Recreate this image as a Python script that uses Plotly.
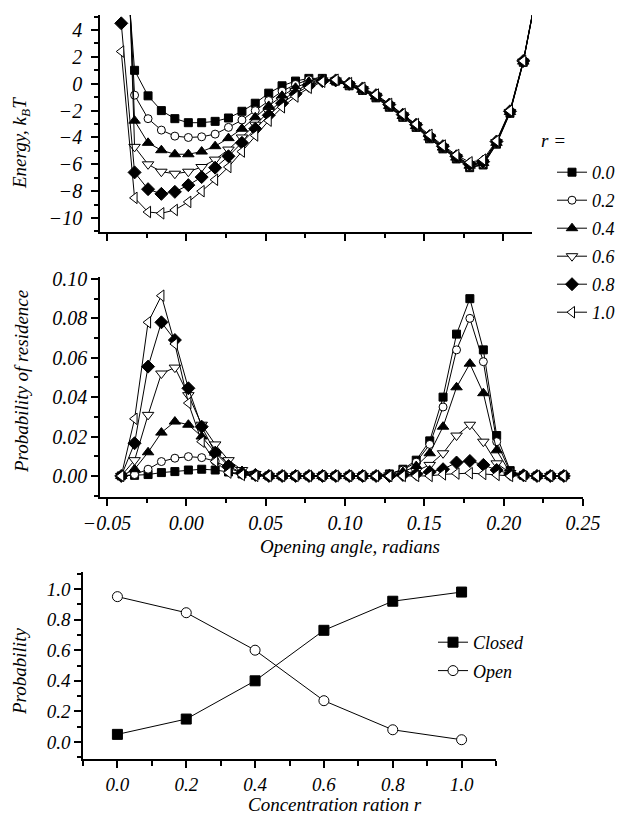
import plotly.graph_objects as go

# ---------------- data ----------------
angle = [-0.0410, -0.0326, -0.0241, -0.0157, -0.0072, 0.0013, 0.0097, 0.0182, 0.0266, 0.0351,
         0.0435, 0.0520, 0.0604, 0.0689, 0.0773, 0.0858, 0.0942, 0.1027, 0.1111, 0.1196,
         0.1280, 0.1365, 0.1449, 0.1534, 0.1618, 0.1703, 0.1787, 0.1872, 0.1956, 0.2041,
         0.2125, 0.2210, 0.2294, 0.2379]

r_labels = ["0.0", "0.2", "0.4", "0.6", "0.8", "1.0"]

# energy (k_B T), first 32 angles
energy_00 = [14, 1.0, -0.9, -2.0, -2.6, -2.9, -2.9, -2.8, -2.55, -2.05, -1.45, -0.7, -0.15, 0.2, 0.4, 0.4,
             0.2, -0.15, -0.5, -1.05, -1.75, -2.5, -3.25, -4.1, -4.85, -5.6, -6.25, -6.05, -4.5, -2.2, 1.6, 6.8]
energy_02 = [18, -0.85, -2.6, -3.45, -3.9, -4.0, -3.95, -3.75, -3.25, -2.7, -2.0, -1.25, -0.55, -0.05, 0.3, 0.35,
             0.2, -0.15, -0.5, -1.0, -1.7, -2.45, -3.2, -4.05, -4.8, -5.55, -6.2, -6.0, -4.45, -2.15, 1.6, 6.8]
energy_04 = [22, -2.75, -4.4, -4.95, -5.25, -5.25, -5.05, -4.65, -4.05, -3.35, -2.5, -1.65, -0.9, -0.3, 0.15, 0.3,
             0.2, -0.1, -0.45, -0.95, -1.65, -2.4, -3.15, -4.0, -4.75, -5.5, -6.1, -5.9, -4.4, -2.1, 1.65, 6.8]
energy_06 = [26, -4.7, -6.0, -6.55, -6.7, -6.55, -6.2, -5.65, -4.9, -4.0, -3.05, -2.1, -1.25, -0.55, 0.0, 0.25,
             0.25, -0.05, -0.4, -0.9, -1.6, -2.35, -3.1, -3.95, -4.7, -5.45, -6.05, -5.85, -4.35, -2.1, 1.65, 6.85]
energy_08 = [4.5, -6.6, -7.85, -8.2, -8.05, -7.55, -6.95, -6.25, -5.4, -4.4, -3.35, -2.35, -1.45, -0.75, -0.15, 0.2,
             0.25, 0.0, -0.35, -0.85, -1.55, -2.3, -3.05, -3.9, -4.65, -5.4, -6.0, -5.8, -4.3, -2.05, 1.7, 6.85]
energy_10 = [2.4, -8.5, -9.55, -9.65, -9.4, -8.8, -8.0, -7.15, -6.2, -5.05, -3.85, -2.75, -1.75, -0.95, -0.3, 0.15,
             0.3, 0.05, -0.3, -0.8, -1.5, -2.25, -3.0, -3.8, -4.6, -5.3, -5.85, -5.65, -4.25, -2.0, 1.7, 6.9]

# probability of residence, all 34 angles
prob_00 = [0, 0.0003, 0.0007, 0.0017, 0.0022, 0.003, 0.0034, 0.003, 0.002, 0.001, 0.0004, 0, 0, 0, 0, 0, 0,
           0, 0, 0, 0.001, 0.0034, 0.008, 0.0178, 0.040, 0.072, 0.090, 0.064, 0.0205, 0.0027, 0.0003, 0, 0, 0]
prob_02 = [0, 0.0007, 0.0034, 0.0073, 0.009, 0.0098, 0.0093, 0.0075, 0.004, 0.0015, 0.0005, 0, 0, 0, 0, 0, 0,
           0, 0, 0, 0.001, 0.003, 0.007, 0.016, 0.035, 0.064, 0.080, 0.058, 0.0174, 0.002, 0.0002, 0, 0, 0]
prob_04 = [0, 0.0034, 0.012, 0.022, 0.0276, 0.026, 0.020, 0.0118, 0.0064, 0.0025, 0.001, 0, 0, 0, 0, 0, 0,
           0, 0, 0, 0.0007, 0.002, 0.005, 0.0115, 0.025, 0.045, 0.057, 0.042, 0.013, 0.0015, 0.0002, 0, 0, 0]
prob_06 = [0, 0.008, 0.031, 0.052, 0.055, 0.041, 0.026, 0.016, 0.008, 0.003, 0.001, 0, 0, 0, 0, 0, 0,
           0, 0, 0, 0.0003, 0.001, 0.0025, 0.0056, 0.0115, 0.0205, 0.026, 0.0174, 0.0064, 0.0015, 0.0002, 0, 0, 0]
prob_08 = [0, 0.0166, 0.0555, 0.078, 0.069, 0.0445, 0.025, 0.0118, 0.005, 0.0015, 0.0005, 0, 0, 0, 0, 0, 0,
           0, 0, 0, 0, 0.0005, 0.001, 0.002, 0.0034, 0.0068, 0.0076, 0.0056, 0.003, 0.001, 0.0003, 0, 0, 0]
prob_10 = [0, 0.029, 0.078, 0.0915, 0.067, 0.037, 0.0174, 0.0073, 0.0017, 0.0005, 0, 0, 0, 0, 0, 0, 0,
           0, 0, 0, 0, 0, 0, 0, 0.0008, 0.0012, 0.0014, 0.001, 0.0005, 0, 0, 0, 0, 0]

ratio_r = [0.0, 0.2, 0.4, 0.6, 0.8, 1.0]
closed_prob = [0.05, 0.15, 0.40, 0.73, 0.92, 0.98]
open_prob = [0.95, 0.845, 0.60, 0.27, 0.08, 0.015]

# ---------------- styling ----------------
FONT = "Liberation Serif"
energies = [energy_00, energy_02, energy_04, energy_06, energy_08, energy_10]
probs = [prob_00, prob_02, prob_04, prob_06, prob_08, prob_10]
symbols = ["square", "circle", "triangle-up", "triangle-down", "diamond", "triangle-left"]
fills = ["black", "white", "black", "white", "black", "white"]
sizes = [8, 8, 10, 10, 10, 10]

fig = go.Figure()

for i in range(6):
    fig.add_trace(go.Scatter(
        x=angle[:len(energies[i])], y=energies[i], mode="lines+markers",
        name=r_labels[i], legend="legend", legendgroup=f"g{i}",
        line=dict(color="black", width=1),
        marker=dict(symbol=symbols[i], size=sizes[i], color=fills[i],
                    line=dict(color="black", width=1)),
        xaxis="x", yaxis="y"))

for i in range(6):
    fig.add_trace(go.Scatter(
        x=angle, y=probs[i], mode="lines+markers", showlegend=False,
        line=dict(color="black", width=1),
        marker=dict(symbol=symbols[i], size=sizes[i], color=fills[i],
                    line=dict(color="black", width=1)),
        xaxis="x2", yaxis="y2"))

fig.add_trace(go.Scatter(
    x=ratio_r, y=closed_prob, mode="lines+markers", name="Closed", legend="legend2",
    legendgroup="c", line=dict(color="black", width=1),
    marker=dict(symbol="square", size=10, color="black", line=dict(color="black", width=1)),
    xaxis="x3", yaxis="y3"))
fig.add_trace(go.Scatter(
    x=ratio_r, y=open_prob, mode="lines+markers", name="Open", legend="legend2",
    legendgroup="o", line=dict(color="black", width=1),
    marker=dict(symbol="circle", size=10, color="white", line=dict(color="black", width=1)),
    xaxis="x3", yaxis="y3"))

W, H = 617, 816
tickfont = dict(family=FONT, size=20, color="black", style="italic")
tickfont_b = dict(family=FONT, size=19, color="black", style="italic")


def ax(**kw):
    base = dict(showgrid=False, zeroline=False, showline=True, linecolor="black", linewidth=1.5,
                ticks="outside", ticklen=7, tickwidth=1.5, tickcolor="black", tickfont=tickfont,
                mirror=False, automargin=False)
    base.update(kw)
    return base


def minor(d, t0, ln=4):
    return dict(dtick=d, tick0=t0, ticks="outside", ticklen=ln, tickcolor="black", tickwidth=1.5)


fig.update_layout(
    template="none",
    width=W, height=H, margin=dict(l=0, r=0, t=0, b=0, pad=0, autoexpand=False),
    paper_bgcolor="white", plot_bgcolor="white", showlegend=True,
    xaxis=ax(domain=[100 / W, 532 / W], range=[-0.0544, 0.218], anchor="y",
             tick0=-0.05, dtick=0.05, showticklabels=False, minor=minor(0.025, -0.05)),
    yaxis=ax(domain=[1 - 232 / H, 1 - 15 / H], range=[-11.04, 5.12], anchor="x",
             tick0=0, dtick=2, ticksuffix=" ", tickformat="d", minor=minor(1, 0)),
    xaxis2=ax(domain=[100 / W, 583 / W], range=[-0.0544, 0.25], anchor="y2",
              tick0=-0.05, dtick=0.05, tickformat=".2f", minor=minor(0.025, -0.05)),
    yaxis2=ax(domain=[1 - 497 / H, 1 - 277 / H], range=[-0.0107, 0.101], anchor="x2",
              tick0=0, dtick=0.02, tickformat=".2f", minor=minor(0.01, 0)),
    xaxis3=ax(domain=[83 / W, 496 / W], range=[-0.1, 1.1], anchor="y3", tickfont=tickfont_b,
              tick0=0, dtick=0.2, tickformat=".1f", minor=minor(0.1, 0, 5)),
    yaxis3=ax(domain=[1 - 759 / H, 1 - 572 / H], range=[-0.111, 1.111], anchor="x3", tickfont=tickfont_b,
              tick0=0, dtick=0.2, tickformat=".1f", minor=minor(0.1, 0)),
    legend=dict(x=552 / W, y=1 - 154 / H, xanchor="left", yanchor="top",
                bgcolor="rgba(0,0,0,0)", borderwidth=0, tracegroupgap=1.6,
                font=dict(family=FONT, size=18, color="black", style="italic")),
    legend2=dict(x=433 / W, y=1 - 624 / H, xanchor="left", yanchor="top",
                 bgcolor="rgba(0,0,0,0)", borderwidth=0, tracegroupgap=2,
                 font=dict(family=FONT, size=18, color="black", style="italic")),
)

title_font = dict(family=FONT, size=19, color="black", style="italic")
annots = [
    dict(text="Energy, k<sub>B</sub>T", x=21 / W, y=1 - 143 / H, textangle=-90),
    dict(text="Probability of residence", x=21 / W, y=1 - 382 / H, textangle=-90),
    dict(text="Probability", x=19 / W, y=1 - 672 / H, textangle=-90),
    dict(text="Opening angle, radians", x=350 / W, y=1 - 546 / H, textangle=0),
    dict(text="Concentration ration r", x=335 / W, y=1 - 804 / H, textangle=0),
    dict(text="r =", x=553 / W, y=1 - 140 / H, textangle=0),
]
for a in annots:
    fig.add_annotation(xref="paper", yref="paper", showarrow=False, font=title_font,
                       xanchor="center", yanchor="middle", **a)

fig.write_html("out.html")
